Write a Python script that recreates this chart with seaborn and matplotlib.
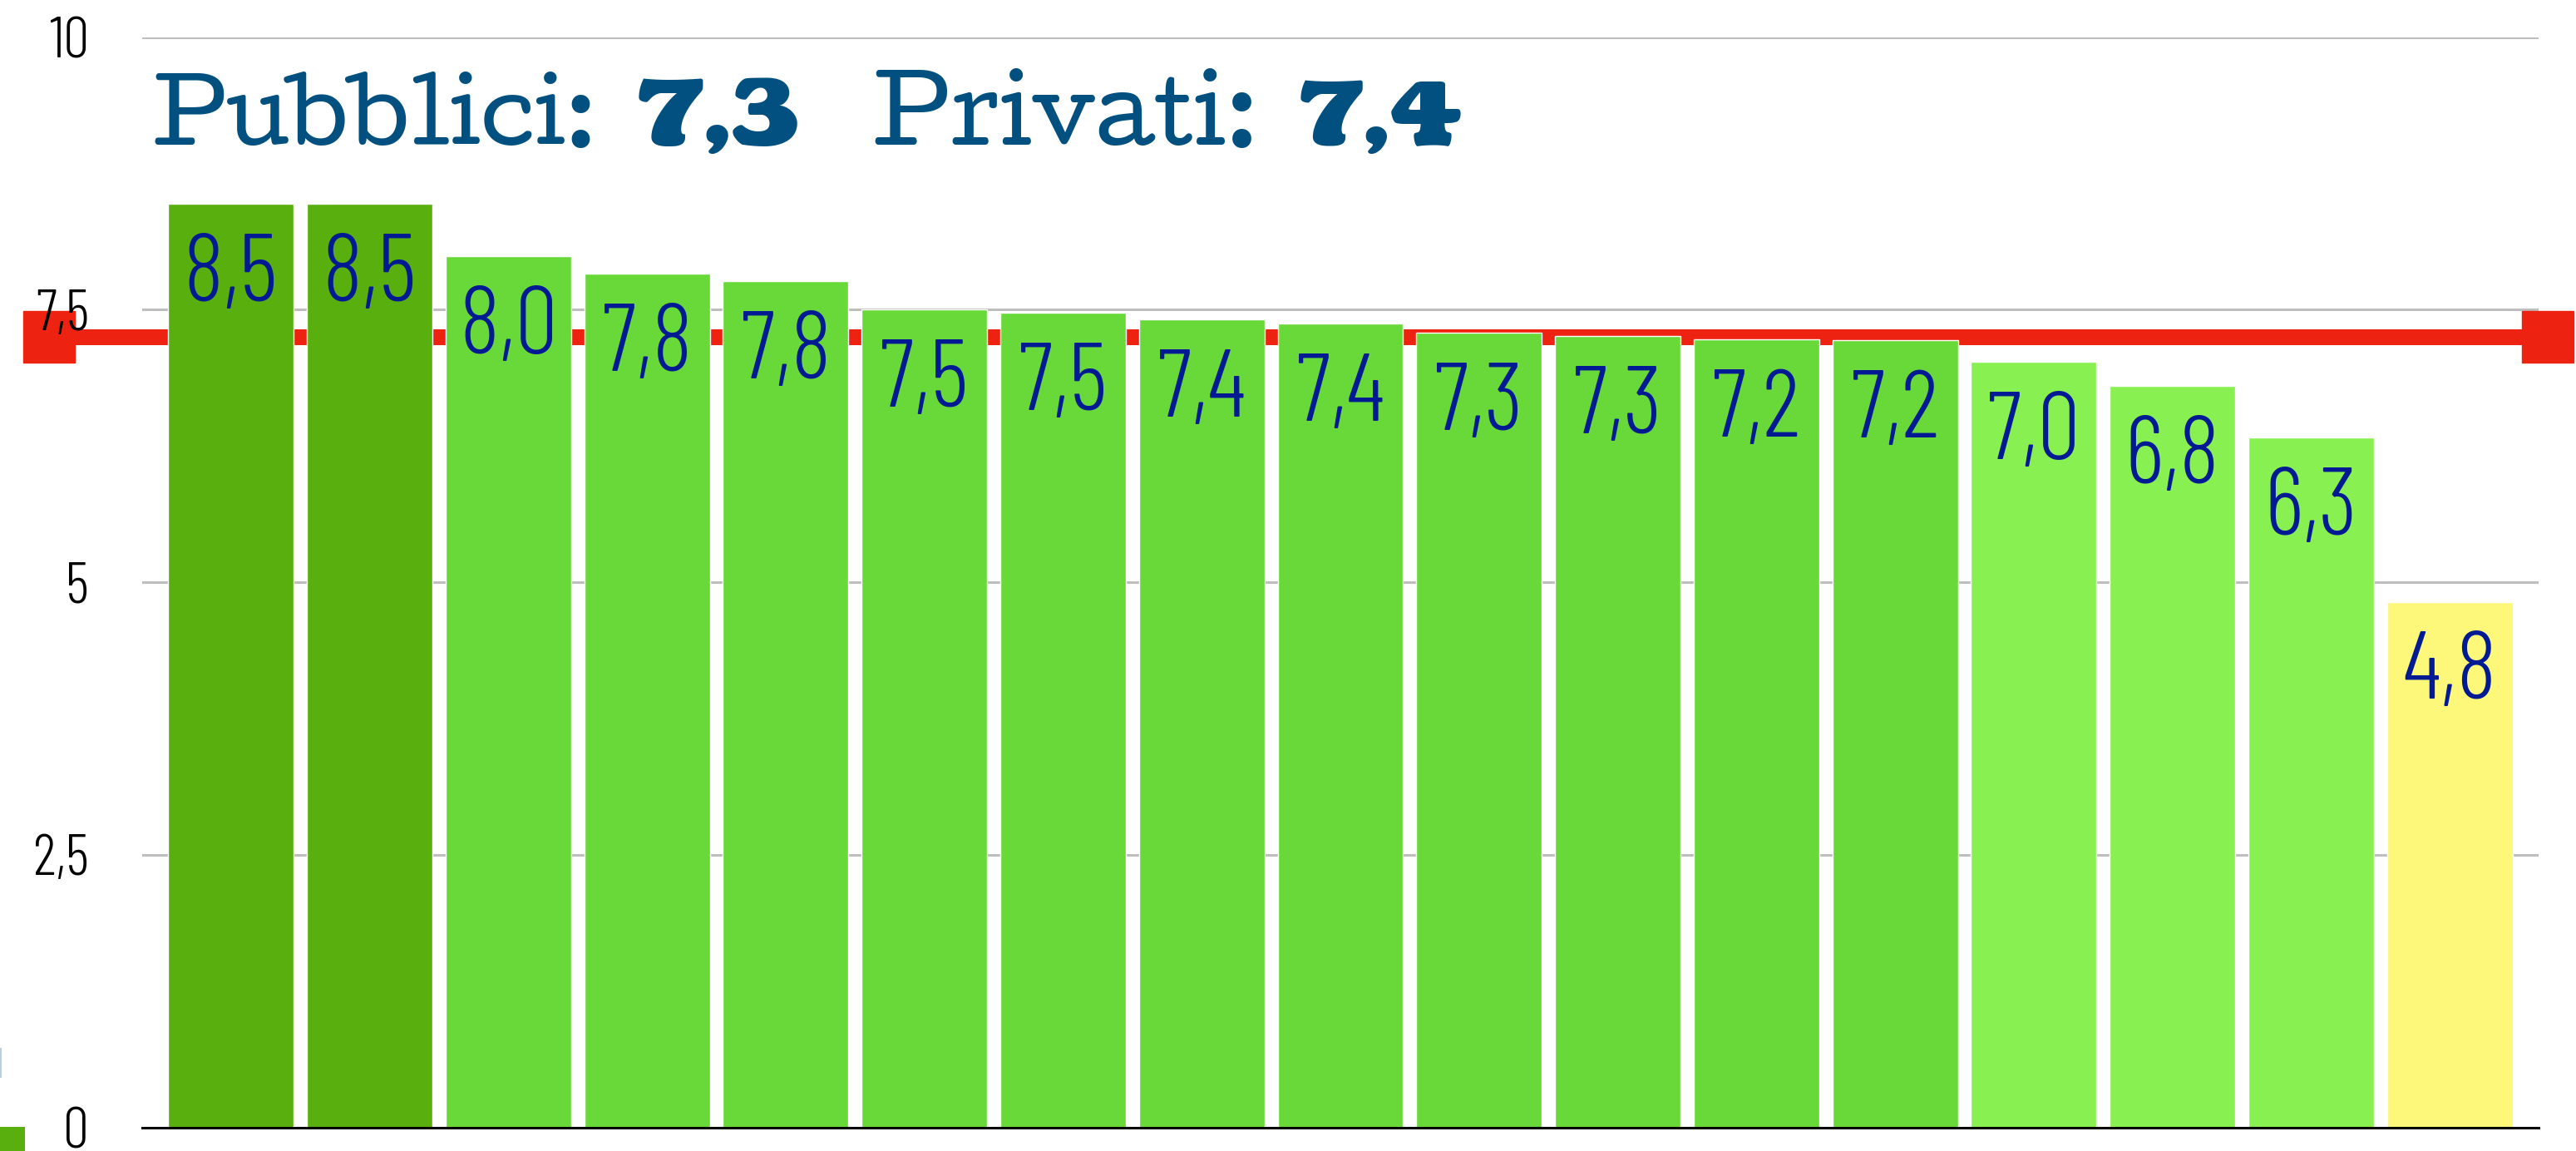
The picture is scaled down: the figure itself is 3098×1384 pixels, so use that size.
import matplotlib
matplotlib.use("Agg")
import matplotlib.pyplot as plt
import matplotlib.transforms as mtransforms
from matplotlib.patches import Rectangle
import seaborn as sns
import pandas as pd

# ---- data ----
categories = [f"C{i+1}" for i in range(17)]
values = [8.47, 8.47, 7.99, 7.83, 7.76, 7.50, 7.47, 7.41, 7.37, 7.29,
          7.26, 7.23, 7.22, 7.02, 6.80, 6.33, 4.82]
bar_colors = ["#58AF0E", "#58AF0E"] + ["#69D93A"] * 11 + ["#88F050"] * 3 + ["#FDF77A"]
average = 7.25
yticks = [0, 2.5, 5, 7.5, 10]
title_parts = ["Pubblici:", "7,3", "Privati:", "7,4"]
title_bold = [False, True, False, True]

LABEL_FONT = ["Barlow Condensed", "Archivo Narrow", "DejaVu Sans"]
TITLE_FONT = ["Cutive", "DejaVu Serif"]
TITLE_BOLD_FONT = ["Coustard", "Alfa Slab One", "DejaVu Serif"]

W, H = 3098, 1384


def fmt(v):
    return f"{v:.1f}".replace(".", ",")


def fmt_tick(v):
    return f"{v:g}".replace(".", ",")


df = pd.DataFrame({"cat": categories, "val": values})

sns.set_theme(style="white")
fig = plt.figure(figsize=(W / 100, H / 100), dpi=100)
ax_l, ax_r, ax_b, ax_t = 171, 3053, 1355.7, 44.7
ax = fig.add_axes([ax_l / W, 1 - ax_b / H, (ax_r - ax_l) / W, (ax_b - ax_t) / H])

sns.barplot(data=df, x="cat", y="val", hue="cat", palette=bar_colors,
            legend=False, width=0.905, saturation=1, ax=ax, zorder=3)

ax.set_ylim(0, 10)
ax.set_xlim(-0.64, len(values) - 1 + 0.64)
ax.set_yticks(yticks)
ax.set_yticklabels([fmt_tick(t) for t in yticks], fontsize=50, color="black",
                   family=LABEL_FONT, fontweight=300)
ax.tick_params(axis="y", length=0, pad=46)
ax.set_xticks([])
ax.set_xlabel("")
ax.set_ylabel("")
ax.set_axisbelow(False)
for t in yticks[1:]:
    ax.axhline(t, color="#BEBEBE", lw=2.2, zorder=1)
for s in ["left", "right", "top"]:
    ax.spines[s].set_visible(False)
ax.spines["bottom"].set_color("black")
ax.spines["bottom"].set_linewidth(2.2)
ax.spines["bottom"].set_zorder(5)

# average reference line
trans = mtransforms.blended_transform_factory(ax.transAxes, ax.transData)
ax.plot([-0.0389, 1.0038], [average, average], color="#EE2211", lw=13.7,
        marker="s", markersize=44.6, transform=trans, clip_on=False, zorder=2,
        solid_capstyle="butt")

# value labels
for i, v in enumerate(values):
    ax.annotate(fmt(v), (i, v), xytext=(0, -84), textcoords="offset points",
                ha="center", va="baseline", fontsize=83, color="#001A94",
                family=LABEL_FONT, fontweight=300, zorder=6)

# title pieces, fitted to the reference widths
starts = [184, 767, 1049, 1563]
ends = [718, 962, 1513, 1760]
renderer = fig.canvas.get_renderer()
for txt, bold, x0, x1 in zip(title_parts, title_bold, starts, ends):
    fam = TITLE_BOLD_FONT if bold else TITLE_FONT
    t = fig.text(x0 / W, 1 - 174 / H, txt, fontsize=80, color="#02507F",
                 fontweight=900 if bold else "normal", family=fam,
                 ha="left", va="baseline")
    w = t.get_window_extent(renderer).width
    t.set_fontsize(80 * (x1 - x0) / w)

# legend remnant at bottom-left
fig.patches.append(Rectangle((0, 0), 30 / W, 29 / H, transform=fig.transFigure,
                             facecolor="#58AF0E", edgecolor="none"))
fig.patches.append(Rectangle((0, 1 - 1296 / H), 2 / W, 36 / H, transform=fig.transFigure,
                             facecolor="#B8D0E4", edgecolor="none"))

fig.savefig("out.png", dpi=100, facecolor="white")
